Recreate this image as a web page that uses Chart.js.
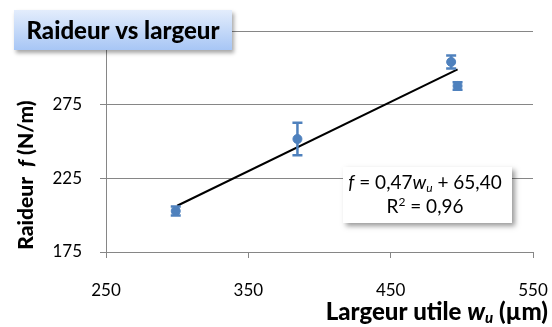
<!DOCTYPE html>
<html>
<head>
<meta charset="utf-8">
<script src="https://cdn.jsdelivr.net/npm/chart.js@4"></script>
<style>
  body { margin: 0; background: #fff; }
  #wrap { width: 552px; height: 327px; }
</style>
</head>
<body>
<div id="wrap"><canvas id="raideurChart" width="552" height="327"></canvas></div>
<script>
/* ===== Data ===== */
const largeur = [299, 384.5, 492.5, 497];     // w_u (µm)
const raideur = [202.8, 251.7, 304, 287.7];   // f (N/m)
const erreur  = [3, 11, 4.4, 2.5];            // error bar half-size
const trendX  = [300, 497];
const trendY  = [206.4, 299.0];
const yTicks  = [175, 225, 275, 325];
const xTicks  = [250, 350, 450, 550];

const blue = '#4f81bd';
const grey = '#868686';
const FONT = 'Lato, "DejaVu Sans", sans-serif';

/* ===== Error bars drawn through the chart scales ===== */
const errorBars = {
  id: 'errorBars',
  afterDatasetsDraw(chart) {
    const { ctx, scales: { x, y } } = chart;
    ctx.save();
    ctx.strokeStyle = blue;
    ctx.lineWidth = 2.5;
    largeur.forEach((w, i) => {
      const px = x.getPixelForValue(w);
      const top = y.getPixelForValue(raideur[i] + erreur[i]);
      const bot = y.getPixelForValue(raideur[i] - erreur[i]);
      ctx.beginPath();
      ctx.moveTo(px, top); ctx.lineTo(px, bot);
      ctx.moveTo(px - 5, top); ctx.lineTo(px + 5, top);
      ctx.moveTo(px - 5, bot); ctx.lineTo(px + 5, bot);
      ctx.stroke();
    });
    ctx.restore();
  }
};

/* ===== Title box, axis titles, equation box ===== */
function runs(ctx, parts, x, y, align) {
  // parts: [text, font, dy]
  let total = 0;
  parts.forEach(p => { ctx.font = p[1]; total += ctx.measureText(p[0]).width; });
  let cx = align === 'right' ? x - total : align === 'center' ? x - total / 2 : x;
  parts.forEach(p => {
    ctx.font = p[1];
    ctx.fillText(p[0], cx, y + (p[2] || 0));
    cx += ctx.measureText(p[0]).width;
  });
}

const decor = {
  id: 'decor',
  afterDraw(chart) {
    const ctx = chart.ctx;
    ctx.save();

    // title box
    ctx.shadowColor = 'rgba(0,0,0,0.35)';
    ctx.shadowBlur = 4;
    ctx.shadowOffsetX = 2;
    ctx.shadowOffsetY = 3;
    const g = ctx.createLinearGradient(0, 10, 0, 50);
    g.addColorStop(0, '#e3edfc');
    g.addColorStop(1, '#a7c6f5');
    ctx.fillStyle = g;
    ctx.fillRect(14, 10, 218, 40);
    ctx.shadowColor = 'transparent';
    ctx.fillStyle = '#000';
    ctx.textBaseline = 'middle';
    ctx.font = '900 24px ' + FONT;
    ctx.textAlign = 'center';
    ctx.fillText('Raideur vs largeur', 123, 31);

    // equation box
    ctx.shadowColor = 'rgba(0,0,0,0.4)';
    ctx.shadowBlur = 5;
    ctx.shadowOffsetX = 3;
    ctx.shadowOffsetY = 3;
    ctx.fillStyle = '#fff';
    ctx.fillRect(343, 167, 169, 56);
    ctx.shadowColor = 'transparent';
    ctx.fillStyle = '#000';
    ctx.textAlign = 'left';
    runs(ctx, [
      ['f', 'italic 19px ' + FONT],
      [' = 0,47', '19px ' + FONT],
      ['w', 'italic 19px ' + FONT],
      ['u', 'italic 12px ' + FONT, 5],
      [' + 65,40', '19px ' + FONT]
    ], 425, 183, 'center');
    runs(ctx, [
      ['R', '19px ' + FONT],
      ['2', '12px ' + FONT, -5],
      [' = 0,96', '19px ' + FONT]
    ], 425, 207, 'center');

    // x axis title
    runs(ctx, [
      ['Largeur utile ', '900 24px ' + FONT],
      ['w', 'italic 900 24px ' + FONT],
      ['u', 'italic 900 15px ' + FONT, 6],
      [' (µm)', '900 24px ' + FONT]
    ], 548, 312, 'right');

    // y axis title
    ctx.translate(26, 175);
    ctx.rotate(-Math.PI / 2);
    runs(ctx, [
      ['Raideur  ', '900 21px ' + FONT],
      ['f', 'italic 900 21px ' + FONT],
      [' (N/m)', '900 21px ' + FONT]
    ], 0, 0, 'center');

    ctx.restore();
  }
};

/* ===== Chart ===== */
const ctx = document.getElementById('raideurChart').getContext('2d');

new Chart(ctx, {
  type: 'scatter',
  data: {
    datasets: [
      {
        label: 'mesures',
        data: largeur.map((w, i) => ({ x: w, y: raideur[i] })),
        backgroundColor: blue,
        borderColor: blue,
        pointRadius: 4.5,
        pointHoverRadius: 4.5
      },
      {
        type: 'line',
        label: 'tendance',
        data: trendX.map((w, i) => ({ x: w, y: trendY[i] })),
        borderColor: '#000',
        borderWidth: 2,
        pointRadius: 0,
        fill: false
      }
    ]
  },
  options: {
    responsive: false,
    animation: false,
    devicePixelRatio: 1,
    layout: { padding: { top: 31, right: 19, left: 0, bottom: 0 } },
    plugins: { legend: { display: false }, tooltip: { enabled: false } },
    scales: {
      x: {
        type: 'linear',
        min: 250, max: 550,
        afterBuildTicks: s => { s.ticks = xTicks.map(v => ({ value: v })); },
        afterFit: s => { s.height = 75; s.paddingLeft = 0; s.paddingRight = 0; },
        grid: { drawOnChartArea: false, drawTicks: true, tickLength: 6, tickColor: grey, color: grey },
        border: { color: grey, width: 1 },
        ticks: { color: '#000', padding: 22, maxRotation: 0, font: { family: FONT, size: 17 } }
      },
      y: {
        type: 'linear',
        min: 175, max: 325,
        afterBuildTicks: s => { s.ticks = yTicks.map(v => ({ value: v })); },
        afterFit: s => { s.width = 106; s.paddingTop = 0; s.paddingBottom = 0; },
        grid: { color: grey, tickLength: 6, tickColor: grey },
        border: { color: grey, width: 1 },
        ticks: { color: '#000', padding: 18, font: { family: FONT, size: 17 } }
      }
    }
  },
  plugins: [errorBars, decor]
});
</script>
</body>
</html>
